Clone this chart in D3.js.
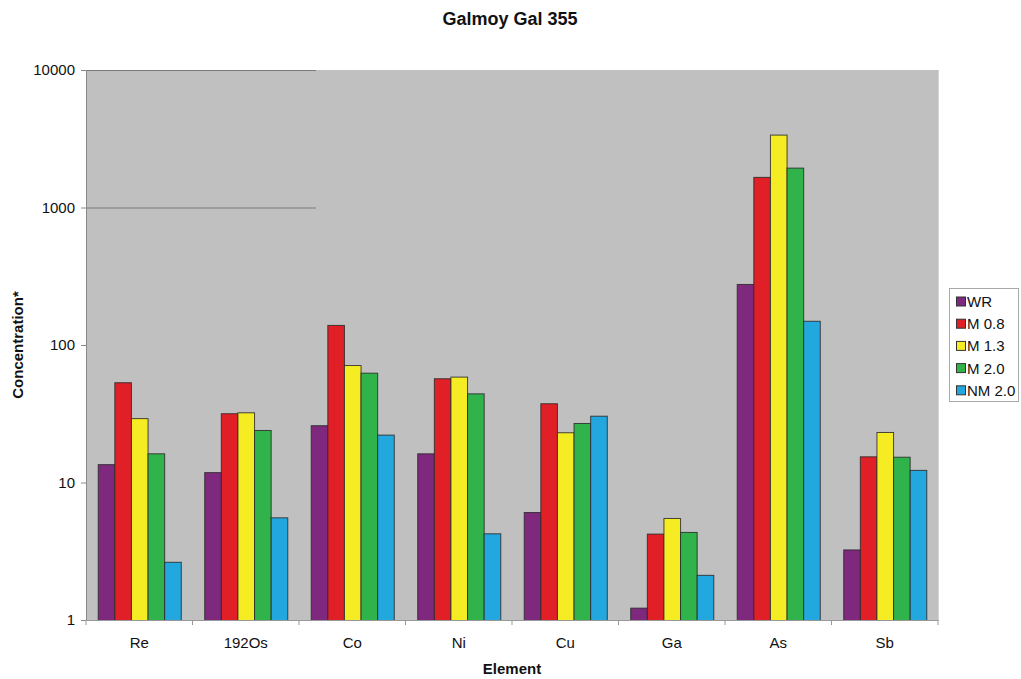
<!DOCTYPE html>
<html>
<head>
<meta charset="utf-8">
<script src="https://cdn.jsdelivr.net/npm/d3@7"></script>
<style>
  body { margin: 0; background: #fff; }
  svg { display: block; font-family: "Liberation Sans", Arial, sans-serif; }
</style>
</head>
<body>
<svg id="chart" width="1021" height="679"></svg>
<script>
// Element categories along the x axis
const elements = ["Re", "192Os", "Co", "Ni", "Cu", "Ga", "As", "Sb"];

// Series names and their concentrations, one value per element
const seriesNames = ["WR", "M 0.8", "M 1.3", "M 2.0", "NM 2.0"];
const wr    = [13.6, 11.9, 26.1, 16.3, 6.1, 1.23, 278, 3.26];
const m08   = [53.6, 31.9, 140, 57.3, 37.7, 4.25, 1670, 15.5];
const m13   = [29.4, 32.4, 71.5, 58.9, 23.2, 5.52, 3390, 23.3];
const m20   = [16.3, 24.1, 62.9, 44.5, 27.1, 4.37, 1950, 15.4];
const nm20  = [2.65, 5.58, 22.3, 4.27, 30.6, 2.13, 150, 12.35];
const seriesValues = [wr, m08, m13, m20, nm20];
const seriesColors = ["#7E287E", "#E11F26", "#F5EC23", "#30B34B", "#22A7DF"];

// Y axis tick values
const yTicks = [1, 10, 100, 1000, 10000];

const svg = d3.select("#chart");
const plotLeft = 86, plotRight = 938, plotTop = 70, plotBottom = 620;

const x0 = d3.scaleBand().domain(elements).range([plotLeft, plotRight])
  .paddingInner(0.22).paddingOuter(0.11);
const x1 = d3.scaleBand().domain(seriesNames).range([0, x0.bandwidth()]);
const y = d3.scaleLog().domain([1, 10000]).range([plotBottom, plotTop]);

// Plot area background
svg.append("rect")
  .attr("x", plotLeft).attr("y", plotTop)
  .attr("width", plotRight - plotLeft).attr("height", plotBottom - plotTop)
  .attr("fill", "#C0C0C0");

// Gridlines at the upper decades (only drawn across the left part)
svg.append("g").selectAll("line")
  .data([1000, 10000])
  .join("line")
  .attr("x1", plotLeft).attr("x2", 316)
  .attr("y1", d => y(d) + 0.5).attr("y2", d => y(d) + 0.5)
  .attr("stroke", "#7a7a7a").attr("stroke-width", 1);

// Bars
const groups = svg.append("g").selectAll("g")
  .data(elements)
  .join("g")
  .attr("transform", d => `translate(${x0(d)},0)`);

groups.selectAll("rect")
  .data((d, i) => seriesNames.map((s, j) => ({ s, v: seriesValues[j][i], c: seriesColors[j] })))
  .join("rect")
  .attr("x", d => x1(d.s) + 0.5)
  .attr("y", d => y(d.v) + 0.5)
  .attr("width", x1.bandwidth())
  .attr("height", d => y(1) - y(d.v))
  .attr("fill", d => d.c)
  .attr("stroke", "#2a2a2a")
  .attr("stroke-width", 1)
  .attr("stroke-opacity", 0.85);

// Y axis
const yAxis = d3.axisLeft(y).tickValues(yTicks).tickFormat(d3.format("d")).tickSize(5).tickPadding(6);
const gy = svg.append("g").attr("transform", `translate(${plotLeft},0)`).call(yAxis);
gy.select(".domain").attr("stroke", "#888");
gy.selectAll(".tick line").attr("stroke", "#888");
gy.selectAll(".tick text").attr("font-size", 15).attr("fill", "#111")
  .attr("font-family", "'Liberation Sans', Arial, sans-serif");

// X axis
const xAxis = d3.axisBottom(x0).tickSize(0).tickPadding(17);
const gx = svg.append("g").attr("transform", `translate(0,${plotBottom})`).call(xAxis);
gx.select(".domain").attr("stroke", "#999");
gx.selectAll(".tick text").attr("font-size", 15).attr("fill", "#111")
  .attr("font-family", "'Liberation Sans', Arial, sans-serif");

// Category separator ticks below the x axis
const step = x0.step();
svg.append("g").selectAll("line")
  .data(d3.range(elements.length + 1))
  .join("line")
  .attr("x1", i => plotLeft + i * step).attr("x2", i => plotLeft + i * step)
  .attr("y1", plotBottom).attr("y2", plotBottom + 5)
  .attr("stroke", "#999");

// Right edge of the plot area
svg.append("line")
  .attr("x1", plotRight + 0.5).attr("x2", plotRight + 0.5)
  .attr("y1", plotTop).attr("y2", plotBottom)
  .attr("stroke", "#d4d4d4");

// Title and axis titles
svg.append("text")
  .attr("x", 510).attr("y", 25)
  .attr("text-anchor", "middle")
  .attr("font-size", 18).attr("font-weight", "bold").attr("fill", "#111")
  .text("Galmoy Gal 355");

svg.append("text")
  .attr("x", 512).attr("y", 674)
  .attr("text-anchor", "middle")
  .attr("font-size", 15).attr("font-weight", "bold").attr("fill", "#111")
  .text("Element");

svg.append("text")
  .attr("transform", "translate(23,345) rotate(-90)")
  .attr("text-anchor", "middle")
  .attr("font-size", 15).attr("font-weight", "bold").attr("fill", "#111")
  .text("Concentration*");

// Legend
const legend = svg.append("g");
legend.append("rect")
  .attr("x", 949.5).attr("y", 288.5)
  .attr("width", 69).attr("height", 113)
  .attr("fill", "#fff").attr("stroke", "#aaa");

const items = legend.selectAll("g.item")
  .data(seriesNames)
  .join("g")
  .attr("class", "item")
  .attr("transform", (d, i) => `translate(956,${301.5 + i * 22.2})`);

items.append("rect")
  .attr("x", 0.5).attr("y", -4.5)
  .attr("width", 9).attr("height", 9)
  .attr("fill", (d, i) => seriesColors[i])
  .attr("stroke", "#333");

items.append("text")
  .attr("x", 11).attr("y", 5.5)
  .attr("font-size", 15).attr("fill", "#111")
  .text(d => d);
</script>
</body>
</html>
